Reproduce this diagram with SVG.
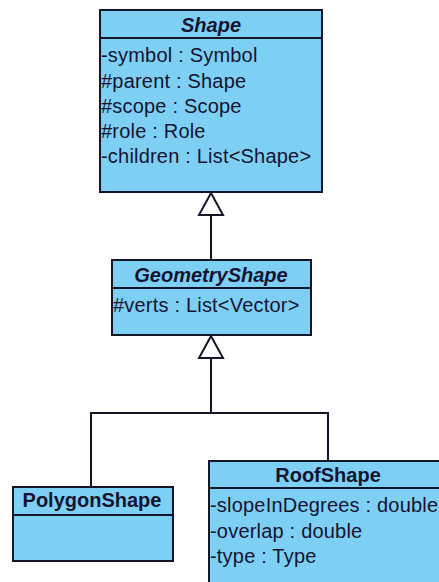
<svg xmlns="http://www.w3.org/2000/svg" width="439" height="582" viewBox="0 0 439 582">
<style>
.box{fill:#7dd0f3;stroke:#15152a;stroke-width:2}
.sep{stroke:#15152a;stroke-width:2}
.t{font-family:"Liberation Sans",Arial,sans-serif;font-size:20px;fill:#141432}
.a{letter-spacing:0.2px}
.ti{font-weight:bold;font-style:italic;text-anchor:middle}
.tb{font-weight:bold;text-anchor:middle}
.c{fill:none;stroke:#15152a;stroke-width:2}
.tri{fill:#ffffff;stroke:#15152a;stroke-width:2}
</style>
<rect width="439" height="582" fill="#ffffff"/>
<g id="connectors">
<line class="c" x1="211" y1="215" x2="211" y2="260"/>
<polygon class="tri" points="211,193 199,215 223,215"/>
<path class="c" d="M211,358 V413 M91,487 V413 H328 V461"/>
<polygon class="tri" points="211,336 199,358 223,358"/>
</g>
<g id="Shape">
<rect class="box" x="100" y="10" width="222" height="182"/>
<line class="sep" x1="100" y1="38" x2="322" y2="38"/>
<text class="t ti" x="211" y="32">Shape</text>
<text class="t a" x="101" y="62">-symbol : Symbol</text>
<text class="t a" x="101" y="87.5">#parent : Shape</text>
<text class="t a" x="101" y="113">#scope : Scope</text>
<text class="t a" x="101" y="138">#role : Role</text>
<text class="t a" x="101" y="163">-children : List&lt;Shape&gt;</text>
</g>
<g id="GeometryShape">
<rect class="box" x="112" y="260" width="199" height="75"/>
<line class="sep" x1="112" y1="288" x2="311" y2="288"/>
<text class="t ti" x="211" y="282">GeometryShape</text>
<text class="t a" x="113" y="312">#verts : List&lt;Vector&gt;</text>
</g>
<g id="PolygonShape">
<rect class="box" x="13" y="487" width="160" height="74"/>
<line class="sep" x1="13" y1="515" x2="173" y2="515"/>
<text class="t tb" x="92" y="507">PolygonShape</text>
</g>
<g id="RoofShape">
<rect class="box" x="209" y="461" width="240" height="130"/>
<line class="sep" x1="209" y1="488" x2="449" y2="488"/>
<text class="t tb" x="328" y="482">RoofShape</text>
<text class="t a" x="210" y="512">-slopeInDegrees : double</text>
<text class="t a" x="210" y="538">-overlap : double</text>
<text class="t a" x="210" y="563">-type : Type</text>
</g>
</svg>
